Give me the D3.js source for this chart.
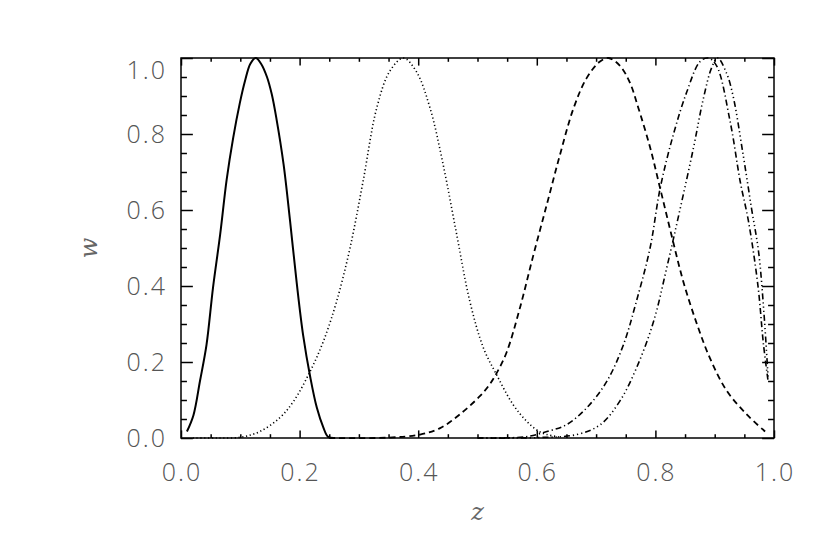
<!DOCTYPE html>
<html><head><meta charset="utf-8">
<script src="https://cdn.jsdelivr.net/npm/d3@7"></script>
<style>
html,body{margin:0;padding:0;background:#fff;}
svg{display:block;}
.tl{font-family:"Open Sans","DejaVu Sans",sans-serif;font-weight:300;font-size:25px;fill:#555;letter-spacing:2px;}
.at{font-family:"DejaVu Serif",serif;font-style:italic;font-weight:normal;font-size:24px;fill:#666;}
</style></head>
<body>
<script>
// ---- data ----
const xTicks = [0.0, 0.2, 0.4, 0.6, 0.8, 1.0];
const yTicks = [0.0, 0.2, 0.4, 0.6, 0.8, 1.0];
const tickLabels = ["0.0","0.2","0.4","0.6","0.8","1.0"];

const z1 = [0.01,0.021,0.032,0.043,0.054,0.066,0.077,0.088,0.099,0.108,0.117,0.126,0.135,0.145,0.153,0.161,0.173,0.184,0.195,0.206,0.218,0.229,0.24,0.248,0.26];
const w1 = [0.017,0.06,0.15,0.245,0.396,0.535,0.68,0.79,0.88,0.94,0.985,1.0,0.985,0.95,0.905,0.84,0.72,0.57,0.41,0.27,0.16,0.08,0.028,0.003,0];

const z2 = [0.02,0.06,0.10,0.133,0.167,0.19,0.218,0.24,0.2625,0.285,0.307,0.33,0.352,0.375,0.397,0.42,0.442,0.465,0.487,0.51,0.532,0.56,0.583,0.603,0.617,0.64];
const w2 = [0,0,0.002,0.017,0.054,0.097,0.176,0.254,0.36,0.50,0.675,0.868,0.965,1.0,0.964,0.868,0.72,0.535,0.36,0.237,0.167,0.088,0.044,0.018,0.009,0.002];

const z3 = [0.25,0.35,0.403,0.437,0.47,0.504,0.52,0.532,0.549,0.572,0.594,0.617,0.639,0.662,0.684,0.706,0.721,0.74,0.757,0.771,0.791,0.808,0.827,0.847,0.87,0.892,0.92,0.954,0.985];
const w3 = [0,0.001,0.009,0.026,0.062,0.11,0.14,0.17,0.225,0.345,0.48,0.615,0.745,0.868,0.947,0.99,1.0,0.98,0.935,0.87,0.765,0.657,0.535,0.412,0.30,0.21,0.125,0.062,0.017];

const z4 = [0.5,0.58,0.617,0.65,0.684,0.718,0.746,0.768,0.791,0.808,0.83,0.853,0.875,0.889,0.903,0.926,0.943,0.957,0.973,0.982,0.99];
const w4 = [0,0.003,0.017,0.035,0.079,0.149,0.245,0.36,0.50,0.657,0.797,0.911,0.99,1.0,0.98,0.833,0.675,0.57,0.40,0.25,0.15];

const z5 = [0.5,0.6,0.667,0.707,0.74,0.768,0.797,0.819,0.842,0.864,0.881,0.895,0.905,0.92,0.931,0.948,0.962,0.974,0.983,0.99];
const w5 = [0,0.001,0.009,0.035,0.097,0.184,0.307,0.447,0.605,0.762,0.894,0.975,1.0,0.96,0.90,0.745,0.605,0.49,0.33,0.16];

const seriesZ = [z1,z2,z3,z4,z5];
const seriesW = [w1,w2,w3,w4,w5];
const dashes = [null, "1.2,2.6", "6,4", "6,3,1.2,3", "6,3,1.2,3,1.2,3,1.2,3"];
const widths = [2, 1.6, 1.8, 1.6, 1.6];

// ---- layout ----
const W = 830, H = 554;
const L = 181, R = 774, T = 58, B = 438;

const svg = d3.select("body").append("svg").attr("width", W).attr("height", H);
const x = d3.scaleLinear().domain([0,1]).range([L,R]);
const y = d3.scaleLinear().domain([0,1]).range([B,T]);

const xMinor = d3.range(0, 1.0001, 0.05);
const yMinor = d3.range(0, 1.0001, 0.05);
const xLen = 0.02*(B-T), yLen = 0.02*(R-L);

function isMajor(v){ return Math.abs(v*5 - Math.round(v*5)) < 1e-6; }

const axStyle = g => { g.select(".domain").remove(); g.selectAll("line").attr("stroke","#000").attr("stroke-width",1.5); g.selectAll("text").remove(); };

svg.append("g").attr("transform",`translate(0,${B})`)
  .call(d3.axisTop(x).tickValues(xMinor).tickSizeInner(0).tickSizeOuter(0))
  .call(axStyle).selectAll(".tick line").attr("y2", d => -(isMajor(d)?xLen:xLen/2));
svg.append("g").attr("transform",`translate(0,${T})`)
  .call(d3.axisBottom(x).tickValues(xMinor).tickSizeInner(0).tickSizeOuter(0))
  .call(axStyle).selectAll(".tick line").attr("y2", d => (isMajor(d)?xLen:xLen/2));
svg.append("g").attr("transform",`translate(${L},0)`)
  .call(d3.axisRight(y).tickValues(yMinor).tickSizeInner(0).tickSizeOuter(0))
  .call(axStyle).selectAll(".tick line").attr("x2", d => (isMajor(d)?yLen:yLen/2));
svg.append("g").attr("transform",`translate(${R},0)`)
  .call(d3.axisLeft(y).tickValues(yMinor).tickSizeInner(0).tickSizeOuter(0))
  .call(axStyle).selectAll(".tick line").attr("x2", d => -(isMajor(d)?yLen:yLen/2));

svg.append("rect").attr("x",L).attr("y",T).attr("width",R-L).attr("height",B-T)
  .attr("fill","none").attr("stroke","#000").attr("stroke-width",1.5);

// tick labels
svg.selectAll("text.xl").data(xTicks).join("text").attr("class","tl xl")
  .attr("x", d => x(d)+1).attr("y", B+43).attr("text-anchor","middle")
  .text((d,i) => tickLabels[i]);
svg.selectAll("text.yl").data(yTicks).join("text").attr("class","tl yl")
  .attr("x", L-14).attr("y", d => y(d) + (d===1 ? 21 : 9)).attr("text-anchor","end")
  .text((d,i) => tickLabels[i]);

// axis titles
svg.append("text").attr("class","at").attr("x", (L+R)/2).attr("y", 520).attr("text-anchor","middle").text("z");
svg.append("text").attr("class","at").attr("transform",`translate(97,${(T+B)/2}) rotate(-90)`).attr("text-anchor","middle").text("w");

// curves
const line = d3.line().x(d => x(d[0])).y(d => y(Math.max(0, d[1]))).curve(d3.curveCatmullRom.alpha(0.5));
seriesZ.forEach((zs,i) => {
  const pts = zs.map((z,j) => [z, seriesW[i][j]]);
  svg.append("path").datum(pts).attr("d", line)
    .attr("fill","none").attr("stroke","#000").attr("stroke-width", widths[i])
    .attr("stroke-dasharray", dashes[i]);
});
</script>
</body></html>
